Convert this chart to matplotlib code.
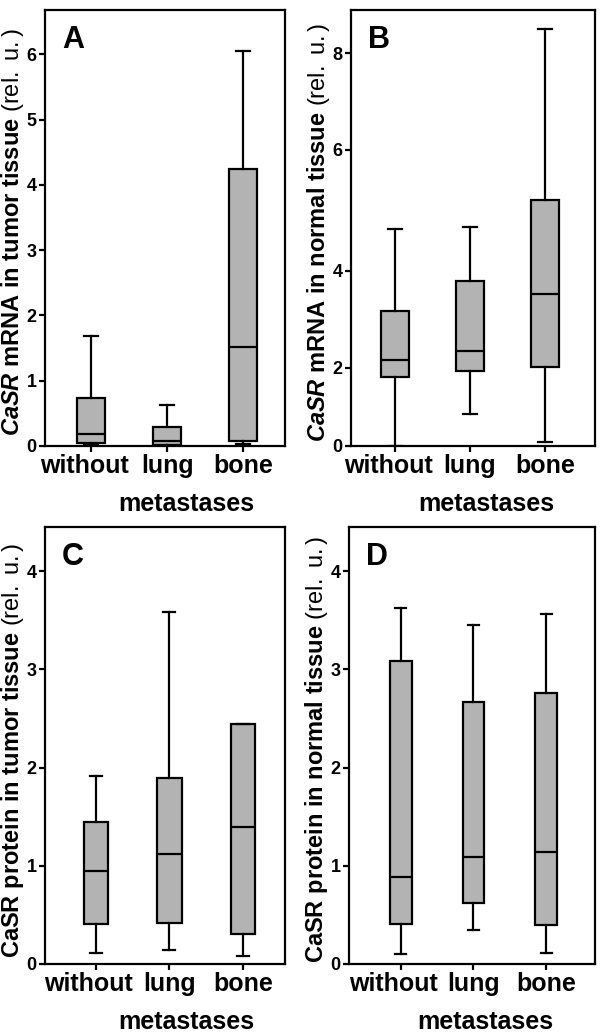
import numpy as np
import matplotlib
matplotlib.use('Agg')
from matplotlib import pyplot as plt
from matplotlib.transforms import ScaledTranslation

groups = ['without', 'lung', 'bone']

# box summaries per group: whisker low, q1, median, q3, whisker high
a_low = [0.01, 0.0, 0.03]
a_q1 = [0.05, 0.02, 0.07]
a_med = [0.18, 0.07, 1.51]
a_q3 = [0.73, 0.29, 4.25]
a_high = [1.69, 0.63, 6.06]

b_low = [0.01, 0.82, 0.11]
b_q1 = [1.75, 1.92, 2.02]
b_med = [2.15, 2.34, 3.52]
b_q3 = [3.17, 3.79, 5.18]
b_high = [4.70, 4.72, 8.49]

c_low = [0.11, 0.14, 0.08]
c_q1 = [0.41, 0.42, 0.31]
c_med = [0.95, 1.12, 1.40]
c_q3 = [1.45, 1.89, 2.44]
c_high = [1.91, 3.58, 2.44]

d_low = [0.10, 0.35, 0.11]
d_q1 = [0.41, 0.62, 0.40]
d_med = [0.89, 1.09, 1.14]
d_q3 = [3.09, 2.67, 2.76]
d_high = [3.63, 3.45, 3.56]

# the y axis of panel B is printed unevenly in the original: value -> position
b_tick_vals = [0, 2, 4, 6, 8, 10]
b_tick_pos = [0, 1.596, 3.566, 6.03, 8.0, 10.0]

plt.rcParams['font.family'] = ['Liberation Sans', 'DejaVu Sans']
plt.rcParams['mathtext.fontset'] = 'custom'
plt.rcParams['mathtext.rm'] = 'Liberation Sans'
plt.rcParams['mathtext.it'] = 'Liberation Sans:italic'
plt.rcParams['mathtext.bf'] = 'Liberation Sans:bold'
plt.rcParams['mathtext.bfit'] = 'Liberation Sans:italic:bold'

BOX_GRAY = '#b3b3b3'
LW = 1.6


def make_stats(low, q1, med, q3, high):
    stats = []
    for i in range(len(groups)):
        stats.append({'whislo': low[i], 'q1': q1[i], 'med': med[i],
                      'q3': q3[i], 'whishi': high[i], 'fliers': []})
    return stats


def draw_panel(ax, stats, letter, ylabel, ylim, yticks, xlim, width, xlab_x):
    pos = np.arange(1, len(groups) + 1)
    ax.bxp(stats, positions=pos, widths=width, capwidths=width * 0.5,
           patch_artist=True, showfliers=False,
           boxprops=dict(facecolor=BOX_GRAY, edgecolor='black', linewidth=LW),
           medianprops=dict(color='black', linewidth=LW),
           whiskerprops=dict(color='black', linewidth=LW),
           capprops=dict(color='black', linewidth=LW))
    ax.set_xlim(*xlim)
    ax.set_ylim(*ylim)
    ax.set_yticks(yticks)
    ax.set_yticklabels([str(t) for t in yticks], fontsize=13, fontweight='bold')
    ax.set_xticks(pos)
    ax.set_xticklabels(groups, fontsize=18, fontweight='bold')
    ax.tick_params(axis='both', direction='out', length=4, width=LW, pad=2)
    # first label sits a little left of its tick in the original
    first = ax.get_xticklabels()[0]
    first.set_transform(first.get_transform() +
                        ScaledTranslation(-0.07, 0, ax.figure.dpi_scale_trans))
    for sp in ax.spines.values():
        sp.set_linewidth(LW)
    ax.set_xlabel('metastases', fontsize=18, fontweight='bold')
    ax.xaxis.set_label_coords(xlab_x, -0.105)
    ax.set_ylabel(ylabel, fontsize=17)
    ax.yaxis.set_label_coords(-0.078, 0.49)
    ax.text(0.07, 0.965, letter, transform=ax.transAxes, fontsize=22,
            fontweight='bold', va='top', ha='left')


fig = plt.figure(figsize=(6, 10.36), dpi=100)

ax_a = fig.add_axes([0.075, 0.5695, 0.40, 0.4208])
ax_b = fig.add_axes([0.585, 0.5695, 0.4067, 0.4208])
ax_c = fig.add_axes([0.075, 0.0695, 0.40, 0.4218])
ax_d = fig.add_axes([0.5817, 0.0695, 0.41, 0.4218])

ax_b.set_yscale('function', functions=(
    lambda v: np.interp(v, b_tick_vals, b_tick_pos),
    lambda p: np.interp(p, b_tick_pos, b_tick_vals)))

mrna_tumor = r'$\mathbfit{CaSR}\ \mathbf{mRNA\ in\ tumor\ tissue}\ \mathrm{(rel.\ u.)}$'
mrna_normal = r'$\mathbfit{CaSR}\ \mathbf{mRNA\ in\ normal\ tissue}\ \mathrm{(rel.\ u.)}$'
prot_tumor = r'$\mathbf{CaSR\ protein\ in\ tumor\ tissue}\ \mathrm{(rel.\ u.)}$'
prot_normal = r'$\mathbf{CaSR\ protein\ in\ normal\ tissue}\ \mathrm{(rel.\ u.)}$'

draw_panel(ax_a, make_stats(a_low, a_q1, a_med, a_q3, a_high), 'A', mrna_tumor,
           (0, 6.68), [0, 1, 2, 3, 4, 5, 6], (0.395, 3.55), 0.36, 0.59)
draw_panel(ax_b, make_stats(b_low, b_q1, b_med, b_q3, b_high), 'B', mrna_normal,
           (0, 8.88), [0, 2, 4, 6, 8], (0.41, 3.67), 0.37, 0.553)
draw_panel(ax_c, make_stats(c_low, c_q1, c_med, c_q3, c_high), 'C', prot_tumor,
           (0, 4.45), [0, 1, 2, 3, 4], (0.31, 3.57), 0.33, 0.59)
draw_panel(ax_d, make_stats(d_low, d_q1, d_med, d_q3, d_high), 'D', prot_normal,
           (0, 4.45), [0, 1, 2, 3, 4], (0.29, 3.67), 0.30, 0.553)

fig.savefig('out.png', dpi=100)
